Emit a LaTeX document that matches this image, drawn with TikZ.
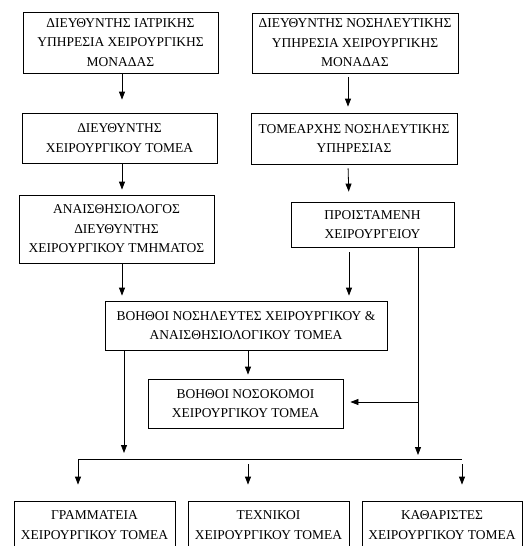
\documentclass[tikz,border=0pt]{standalone}
\usepackage{fontspec}
\setmainfont{Liberation Serif}
\usetikzlibrary{arrows.meta,positioning}

\begin{document}
\begin{tikzpicture}[x=1pt,y=-1pt,
    box/.style={draw,line width=0.8pt,align=center,inner sep=2pt,
      font=\fontsize{13.5}{19.5}\selectfont},
    arr/.style={-{Triangle[length=8pt,width=6pt]},line width=0.8pt}]
    \useasboundingbox (0,0) rectangle (532,546);
    % top rows
    \node[box,minimum width=195pt,minimum height=61pt] (dirmed) at (120.5,42.5)
      {ΔΙΕΥΘΥΝΤΗΣ ΙΑΤΡΙΚΗΣ\\ΥΠΗΡΕΣΙΑ ΧΕΙΡΟΥΡΓΙΚΗΣ\\ΜΟΝΑΔΑΣ};
    \node[box,minimum width=206pt,minimum height=60pt] (dirnurse) at (355,43)
      {ΔΙΕΥΘΥΝΤΗΣ ΝΟΣΗΛΕΥΤΙΚΗΣ\\ΥΠΗΡΕΣΙΑ ΧΕΙΡΟΥΡΓΙΚΗΣ\\ΜΟΝΑΔΑΣ};
    \node[box,minimum width=195pt,minimum height=50pt] (dirsect) at (119.5,138)
      {ΔΙΕΥΘΥΝΤΗΣ\\ΧΕΙΡΟΥΡΓΙΚΟΥ ΤΟΜΕΑ};
    \node[box,minimum width=206pt,minimum height=51pt] (sectnurse) at (354,138.5)
      {ΤΟΜΕΑΡΧΗΣ ΝΟΣΗΛΕΥΤΙΚΗΣ\\ΥΠΗΡΕΣΙΑΣ};
    \node[box,minimum width=195pt,minimum height=68pt] (anaest) at (116.5,229)
      {ΑΝΑΙΣΘΗΣΙΟΛΟΓΟΣ\\ΔΙΕΥΘΥΝΤΗΣ\\ΧΕΙΡΟΥΡΓΙΚΟΥ ΤΜΗΜΑΤΟΣ};
    \node[box,minimum width=163pt,minimum height=45pt] (headnurse) at (372.5,224.5)
      {ΠΡΟΙΣΤΑΜΕΝΗ\\ΧΕΙΡΟΥΡΓΕΙΟΥ};
    % middle
    \node[box,minimum width=282pt,minimum height=49pt] (assist) at (246,325.5)
      {ΒΟΗΘΟΙ ΝΟΣΗΛΕΥΤΕΣ ΧΕΙΡΟΥΡΓΙΚΟΥ \&\\ΑΝΑΙΣΘΗΣΙΟΛΟΓΙΚΟΥ ΤΟΜΕΑ};
    \node[box,minimum width=195pt,minimum height=49pt] (orderly) at (245.5,403.5)
      {ΒΟΗΘΟΙ ΝΟΣΟΚΟΜΟΙ\\ΧΕΙΡΟΥΡΓΙΚΟΥ ΤΟΜΕΑ};
    % bottom row
    \node[box,minimum width=161pt,minimum height=48pt] (secr) at (94.5,525)
      {ΓΡΑΜΜΑΤΕΙΑ\\ΧΕΙΡΟΥΡΓΙΚΟΥ ΤΟΜΕΑ};
    \node[box,minimum width=161pt,minimum height=48pt] (tech) at (268.5,525)
      {ΤΕΧΝΙΚΟΙ\\ΧΕΙΡΟΥΡΓΙΚΟΥ ΤΟΜΕΑ};
    \node[box,minimum width=160pt,minimum height=48pt] (clean) at (442,525)
      {ΚΑΘΑΡΙΣΤΕΣ\\ΧΕΙΡΟΥΡΓΙΚΟΥ ΤΟΜΕΑ};

    \coordinate (busL) at (78,459);
    \coordinate (busR) at (462,459);
    \coordinate (rj) at (418,402);

    \draw[arr,shorten >=13pt] ([xshift=1.5pt]dirmed.south) -- ([xshift=2.5pt]dirsect.north);
    \draw[arr,shorten <=4pt,shorten >=6pt] ([xshift=-7pt]dirnurse.south) -- ([xshift=-6pt]sectnurse.north);
    \draw[arr,shorten >=5pt] ([xshift=2.5pt]dirsect.south) -- ([xshift=5.5pt]anaest.north);
    \draw[arr,shorten <=4pt,shorten >=10pt] ([xshift=-6pt]sectnurse.south) -- ([xshift=-23.5pt]headnurse.north);
    \draw[arr,shorten >=5pt] ([xshift=5.5pt]anaest.south) -- ([xshift=-124pt]assist.north);
    \draw[arr,shorten <=5pt,shorten >=5pt] ([xshift=-23.5pt]headnurse.south) -- ([xshift=103pt]assist.north);
    \draw[arr,shorten >=4pt] ([xshift=45.5pt]headnurse.south) -- ([xshift=45.5pt]headnurse.south |- busR);
    \draw[arr,shorten >=7pt] (rj) -- (rj -| orderly.east);
    \draw[arr,shorten >=6pt] ([xshift=-122pt]assist.south) -- ([xshift=-122pt]assist.south |- busL);
    \draw[arr,shorten >=4pt] ([xshift=2pt]assist.south) -- ([xshift=2.5pt]orderly.north);
    \draw[line width=0.8pt] (busL) -- (busR);
    \draw[arr,shorten >=16pt] (busL) -- ([xshift=-16.5pt]secr.north);
    \draw[arr,shorten <=5pt,shorten >=16pt] ([xshift=-20.5pt]tech.north |- busL) -- ([xshift=-20.5pt]tech.north);
    \draw[arr,shorten <=5pt,shorten >=16pt] (busR) -- (busR |- clean.north);
  \end{tikzpicture}
\end{document}
